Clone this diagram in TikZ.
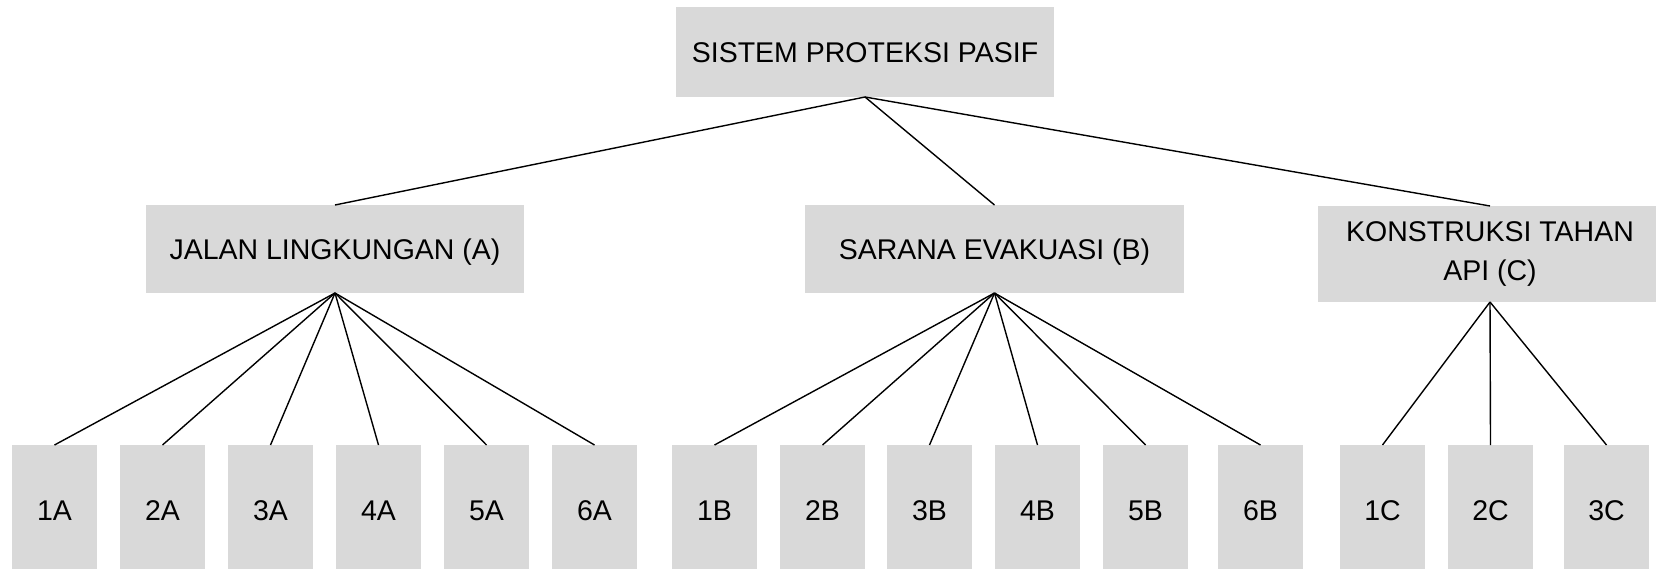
\documentclass[tikz,border=0pt]{standalone}
\usepackage{fontspec}
\setmainfont{Liberation Sans}
\definecolor{boxgray}{HTML}{D9D9D9}
\begin{document}
\begin{tikzpicture}[x=1pt,y=-1pt,
  box/.style={fill=boxgray,draw=none,inner sep=0pt,outer sep=0pt,align=center,
    font=\fontsize{28.5}{39}\selectfont,text=black},
  oneline/.style={text height=20.4pt,text depth=0pt},
  leaf/.style={box,oneline,minimum width=85pt,minimum height=130pt},
  link/.style={line width=1.4pt,black}]
\useasboundingbox (0,0) rectangle (1656,569);
\clip (0,0) rectangle (1656,569);
\node[box,oneline,minimum width=378pt,minimum height=90pt] (root) at (865,52) {SISTEM PROTEKSI PASIF};
\node[box,oneline,minimum width=378pt,minimum height=88pt] (A) at (335,249) {JALAN LINGKUNGAN (A)};
\node[box,oneline,minimum width=379pt,minimum height=88pt] (B) at (994.5,249) {SARANA EVAKUASI (B)};
\node[box,minimum width=344pt,minimum height=96pt] (C) at (1490,254) {KONSTRUKSI TAHAN\\API (C)};
\foreach \n/\x in {1/54.5,2/162.5,3/270.5,4/378.5,5/486.5,6/594.5}
  \node[leaf] (\n A) at (\x,510) {\n A};
\foreach \n/\x in {1/714.5,2/822.5,3/929.5,4/1037.5,5/1145.5,6/1260.5}
  \node[leaf] (\n B) at (\x,510) {\n B};
\foreach \n/\x in {1/1382.5,2/1490.5,3/1606.5}
  \node[leaf] (\n C) at (\x,510) {\n C};
\draw[link] (root.south) -- (A.north);
\draw[link] (root.south) -- (B.north);
\draw[link] (root.south) -- (C.north);
\foreach \n in {1,...,6} {
  \draw[link] (A.south) -- (\n A.north);
  \draw[link] (B.south) -- (\n B.north);
}
\foreach \n in {1,2,3}
  \draw[link] (C.south) -- (\n C.north);
\end{tikzpicture}
\end{document}
